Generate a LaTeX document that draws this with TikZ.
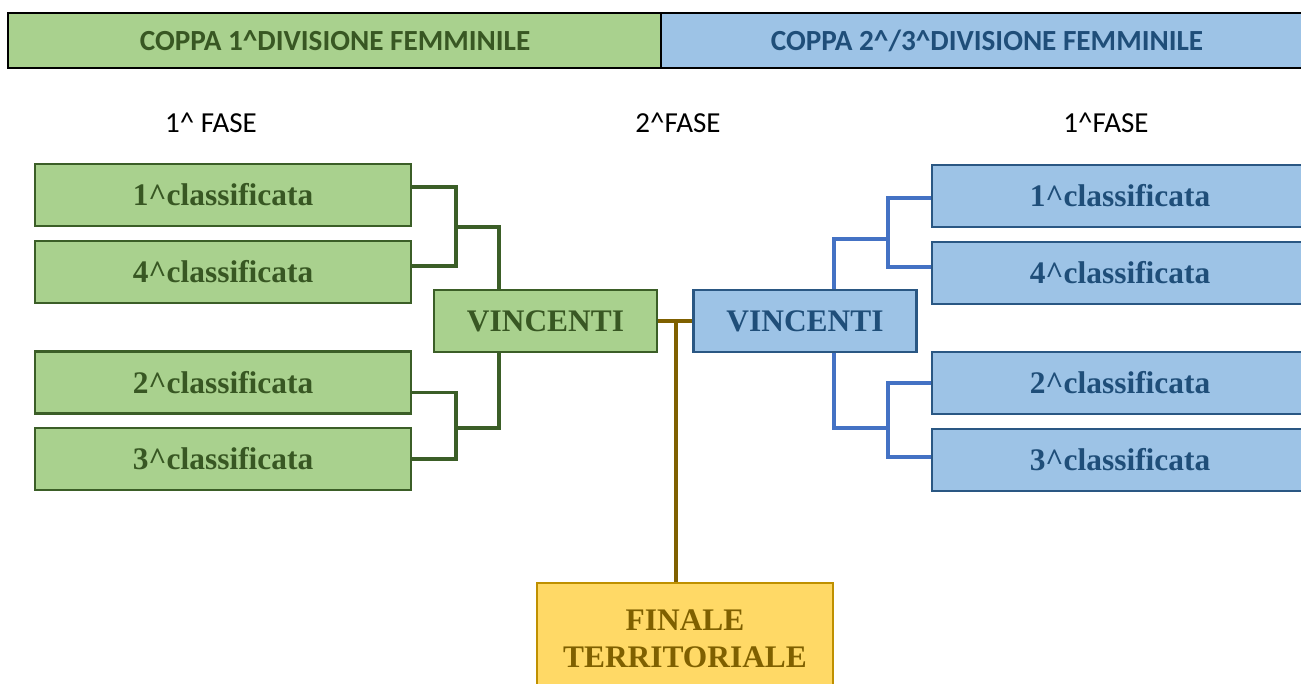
\documentclass[tikz,border=0pt]{standalone}
\usepackage{fontspec}
\setmainfont{Liberation Serif}
\newfontfamily\calibri{Carlito}
\definecolor{grfill}{HTML}{A9D18E}
\definecolor{grline}{HTML}{3B5E27}
\definecolor{grtext}{HTML}{385723}
\definecolor{blfill}{HTML}{9DC3E6}
\definecolor{blline}{HTML}{2A5783}
\definecolor{bltext}{HTML}{1F4E79}
\definecolor{blwire}{HTML}{4472C4}
\definecolor{gdfill}{HTML}{FFD966}
\definecolor{gdline}{HTML}{BF9000}
\definecolor{gdtext}{HTML}{7F6000}
\begin{document}
\begin{tikzpicture}[x=0.5pt,y=-0.5pt,
    squadra/.style={draw=grline, fill=grfill, line width=1.1pt, minimum width=188pt, minimum height=31pt,
        inner sep=0pt, text=grtext, font=\bfseries\fontsize{15.7}{18}\selectfont},
    squadrab/.style={squadra, draw=blline, fill=blfill, text=bltext},
    vince/.style={squadra, minimum width=111.5pt},
    vinceb/.style={squadrab, minimum width=111.5pt},
    fase/.style={font=\calibri\fontsize{14.5}{17}\selectfont},
    titolo/.style={font=\calibri\bfseries\fontsize{14.6}{17}\selectfont},
    filo/.style={line width=1.6pt}]
    \clip (0,0) rectangle (1301,684);
    \useasboundingbox (0,0) rectangle (1301,684);

    % intestazione
    \fill[grfill] (8,13) rectangle (661,68);
    \fill[blfill] (661,13) rectangle (1310,68);
    \draw[line width=1.2pt] (8,13) rectangle (1310,68);
    \draw[line width=1.2pt] (661,13) -- (661,68);
    \node[titolo, text=grtext] (tit1) at (335,41) {COPPA 1\^{}DIVISIONE FEMMINILE};
    \node[titolo, text=bltext] (tit2) at (987,41) {COPPA 2\^{}/3\^{}DIVISIONE FEMMINILE};

    \node[fase] (fase1) at (211,123) {1\^{} FASE};
    \node[fase] (fase2) at (678,123) {2\^{}FASE};
    \node[fase] (fase3) at (1106,123) {1\^{}FASE};

    % prima divisione
    \node[squadra] (b1) at (223,195) {1\^{}classificata};
    \node[squadra] (b2) at (223,272) {4\^{}classificata};
    \node[squadra] (b3) at (223,382.5) {2\^{}classificata};
    \node[squadra] (b4) at (223,459) {3\^{}classificata};
    \node[vince] (vl) at (545.5,321) {VINCENTI};

    % seconda/terza divisione
    \node[squadrab] (r1) at (1120,196) {1\^{}classificata};
    \node[squadrab] (r2) at (1120,273) {4\^{}classificata};
    \node[squadrab] (r3) at (1120,383) {2\^{}classificata};
    \node[squadrab] (r4) at (1120,460) {3\^{}classificata};
    \node[vinceb] (vr) at (805,321) {VINCENTI};

    \node[draw=gdline, fill=gdfill, line width=1.1pt, minimum width=148pt, minimum height=56pt,
        text=gdtext, align=center, font=\bfseries\fontsize{15.7}{18.5}\selectfont] (fin) at (685,639) {FINALE\\TERRITORIALE};

    % collegamenti
    \coordinate (jl1) at (456,227);
    \coordinate (jl2) at (456,428);
    \coordinate (jr1) at (888,239);
    \coordinate (jr2) at (888,428);
    \coordinate (jc) at (676,321);

    \draw[grline, filo] ([yshift=4pt]b1.east) -| (jl1) |- ([yshift=3pt]b2.east);
    \draw[grline, filo] ([yshift=-5pt]b3.east) -| (jl2) |- (b4.east);
    \draw[grline, filo] (jl1) -| ([xshift=-23.25pt]vl.north);
    \draw[grline, filo] (jl2) -| ([xshift=-23.25pt]vl.south);

    \draw[blwire, filo] ([yshift=-1pt]r1.west) -| (jr1) |- ([yshift=3pt]r2.west);
    \draw[blwire, filo] (r3.west) -| (jr2) |- ([yshift=1.5pt]r4.west);
    \draw[blwire, filo] (jr1) -| ([xshift=14.5pt]vr.north);
    \draw[blwire, filo] (jr2) -| ([xshift=14.5pt]vr.south);

    \draw[gdtext, filo] (vl.east) -- (vr.west);
    \draw[gdtext, filo] (jc) -- (jc |- fin.north);
\end{tikzpicture}
\end{document}
